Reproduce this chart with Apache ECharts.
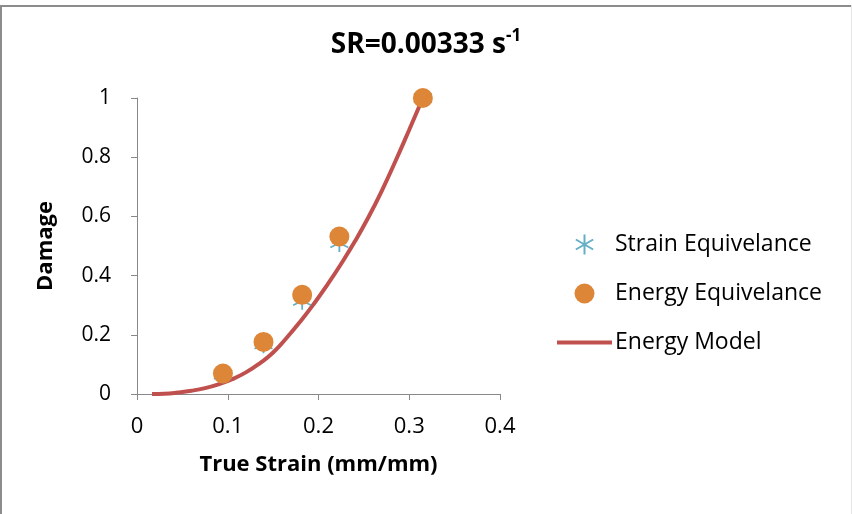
<!DOCTYPE html>
<html>
<head>
<meta charset="utf-8">
<script src="https://cdn.jsdelivr.net/npm/echarts@6/dist/echarts.min.js"></script>
<style>
  html, body { margin: 0; padding: 0; background: #fff; }
  #chart { width: 852px; height: 514px; }
</style>
</head>
<body>
<div id="chart"></div>
<script>
// Damage vs true strain at strain rate 0.00333 1/s
const strainEquivalence = [
  [0.0947, 0.066], [0.1394, 0.168], [0.182, 0.315], [0.223, 0.510], [0.315, 1.0]
];
const energyEquivalence = [
  [0.0947, 0.069], [0.1394, 0.176], [0.182, 0.335], [0.223, 0.532], [0.315, 1.0]
];
const energyModel = [
  [0.0165, 0.0], [0.030, 0.001], [0.045, 0.005], [0.060, 0.011], [0.075, 0.020],
  [0.090, 0.033], [0.105, 0.050], [0.120, 0.073], [0.135, 0.103], [0.150, 0.140],
  [0.165, 0.190], [0.180, 0.245], [0.195, 0.305], [0.210, 0.370], [0.225, 0.440],
  [0.240, 0.515], [0.255, 0.597], [0.270, 0.688], [0.285, 0.788], [0.300, 0.893],
  [0.315, 1.0]
];
const xTicks = { min: 0, max: 0.4, interval: 0.1 };
const yTicks = { min: 0, max: 1, interval: 0.2 };

const FONT = '"Open Sans", "Noto Sans", sans-serif';
const AXIS_GREY = '#888888';
const asterisk = 'path://M0,-10 L0,10 M-8.66,-5 L8.66,5 M-8.66,5 L8.66,-5';
const lineIcon = 'path://M0,0 L55,0 L55,4 L0,4 Z';

const chart = echarts.init(document.getElementById('chart'), null, { renderer: 'canvas' });
chart.setOption({
  backgroundColor: '#ffffff',
  animation: false,
  title: {
    text: '{a|SR=0.00333 s}{b|-1}',
    left: 426, top: 28, textAlign: 'center', padding: 0,
    textStyle: {
      rich: {
        a: { fontFamily: FONT, fontSize: 28, fontWeight: 'bold', color: '#000', lineHeight: 34 },
        b: { fontFamily: FONT, fontSize: 17, fontWeight: 'bold', color: '#000', verticalAlign: 'top', lineHeight: 30 }
      }
    }
  },
  grid: { left: 137, right: 352, top: 98, bottom: 120, containLabel: false },
  legend: {
    orient: 'vertical',
    left: 557, top: 233, padding: 0,
    itemWidth: 55, itemHeight: 20, itemGap: 26,
    textStyle: { fontFamily: FONT, fontSize: 23, lineHeight: 20, color: '#000', padding: [0, 0, 0, -2] },
    data: [
      { name: 'Strain Equivelance' },
      { name: 'Energy Equivelance' },
      { name: 'Energy Model', icon: lineIcon }
    ]
  },
  xAxis: {
    type: 'value',
    min: xTicks.min, max: xTicks.max, interval: xTicks.interval,
    name: 'True Strain (mm/mm)', nameLocation: 'middle', nameGap: 60,
    nameTextStyle: { fontFamily: FONT, fontSize: 22, fontWeight: 'bold', color: '#000' },
    axisLine: { show: true, onZero: false, lineStyle: { color: AXIS_GREY, width: 1 } },
    axisTick: { show: true, inside: false, length: 6, lineStyle: { color: AXIS_GREY } },
    axisLabel: { fontFamily: FONT, fontSize: 22, color: '#000', margin: 22 },
    splitLine: { show: false }
  },
  yAxis: {
    type: 'value',
    min: yTicks.min, max: yTicks.max, interval: yTicks.interval,
    name: 'Damage', nameLocation: 'middle', nameGap: 80,
    nameTextStyle: { fontFamily: FONT, fontSize: 22, fontWeight: 'bold', color: '#000' },
    axisLine: { show: true, onZero: false, lineStyle: { color: AXIS_GREY, width: 1 } },
    axisTick: { show: true, inside: false, length: 6, lineStyle: { color: AXIS_GREY } },
    axisLabel: { fontFamily: FONT, fontSize: 21, color: '#000', margin: 26 },
    splitLine: { show: false }
  },
  series: [
    {
      name: 'Energy Model',
      type: 'line',
      data: energyModel,
      smooth: true,
      showSymbol: false,
      symbol: 'none',
      lineStyle: { color: '#C0504D', width: 4 },
      itemStyle: { color: '#C0504D' },
      z: 2
    },
    {
      name: 'Strain Equivelance',
      type: 'scatter',
      data: strainEquivalence,
      symbol: asterisk,
      symbolSize: 18,
      itemStyle: { color: 'rgba(0,0,0,0)', borderColor: '#3E9BB5', borderWidth: 1.8 },
      z: 3
    },
    {
      name: 'Energy Equivelance',
      type: 'scatter',
      data: energyEquivalence,
      symbol: 'circle',
      symbolSize: 20,
      itemStyle: { color: '#DE8638', opacity: 1 },
      z: 4
    }
  ],
  graphic: [
    { type: 'rect', shape: { x: 0, y: 5, width: 852, height: 2 }, style: { fill: '#8c8c8c' }, silent: true },
    { type: 'rect', shape: { x: 0, y: 5, width: 2, height: 509 }, style: { fill: '#8c8c8c' }, silent: true },
    { type: 'rect', shape: { x: 851, y: 5, width: 1, height: 509 }, style: { fill: '#e6e6e6' }, silent: true }
  ]
});
</script>
</body>
</html>
